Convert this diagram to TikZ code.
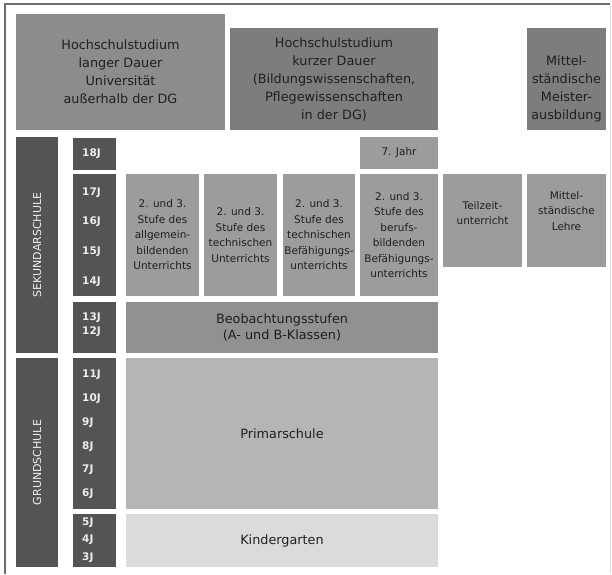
\documentclass[tikz,border=0pt]{standalone}
\usepackage{fontspec}
\setmainfont{DejaVu Sans}
\definecolor{dark}{gray}{0.33}
\definecolor{uni}{gray}{0.55}
\definecolor{hoch}{gray}{0.49}
\definecolor{stufe}{gray}{0.61}
\definecolor{beob}{gray}{0.57}
\definecolor{prim}{gray}{0.71}
\definecolor{kinder}{gray}{0.86}
\definecolor{ink}{gray}{0.12}
\definecolor{agetext}{gray}{0.93}
\begin{document}
\begin{tikzpicture}[x=1pt, y=-1pt,
  box/.style={rectangle, inner sep=0pt, align=center, text=ink},
  big/.style={box, font=\fontsize{12.8}{18}\selectfont},
  small/.style={box, font=\fontsize{10.5}{15.5}\selectfont},
  bar/.style={rectangle, inner sep=0pt, fill=dark, text=agetext, rotate=90,
    minimum height=42pt, font=\fontsize{11}{13}\selectfont},
  agebox/.style={rectangle, inner sep=0pt, fill=dark, minimum width=43pt},
  age/.style={anchor=west, inner sep=0pt, text=agetext, font=\bfseries\fontsize{10.5}{12}\selectfont}]
\useasboundingbox (0,0) rectangle (612,574);
\draw[gray!85!black, line width=1.2pt] (5,574) -- (5,4) -- (610,4);
\draw[gray!25, line width=1pt] (610,4) -- (610,574);

\node[big, fill=uni, minimum width=209pt, minimum height=116pt] (lang) at (120.5,72)
  {Hochschulstudium\\langer Dauer\\Universität\\außerhalb der DG};
\node[big, fill=hoch, minimum width=208pt, minimum height=102pt] (kurz) at (334,79)
  {Hochschulstudium\\kurzer Dauer\\(Bildungswissenschaften,\\Pflegewissenschaften\\in der DG)};
\node[big, fill=hoch, minimum width=79pt, minimum height=102pt] (meister) at (566.5,79) {};
\node[big] (meistertxt) at (566.5,88.5) {Mittel-\\ständische\\Meister-\\ausbildung};

\node[bar, minimum width=216pt] (sek) at (37,245) {SEKUNDARSCHULE};
\node[bar, minimum width=209pt] (grund) at (37,462.5) {GRUNDSCHULE};

\node[agebox, minimum height=32pt] (a18) at (94.5,154) {};
\node[agebox, minimum height=122pt] (asek) at (94.5,235) {};
\node[agebox, minimum height=51pt] (abeob) at (94.5,327.5) {};
\node[agebox, minimum height=151pt] (aprim) at (94.5,433.5) {};
\node[agebox, minimum height=53pt] (akg) at (94.5,540.5) {};
\foreach \a/\y in {18/154,17/193,16/222,15/252,14/282,13/318,12/332,11/375,10/399,9/423,8/447,7/470,6/494,5/523,4/540,3/558}
  \node[age] (j\a) at (82,\y) {\a J};

\node[small, fill=stufe, minimum width=78pt, minimum height=32pt] (jahr7) at (399,153) {7. Jahr};
\node[small, fill=stufe, minimum width=73pt, minimum height=122pt] (allg) at (162.5,235)
  {2. und 3.\\Stufe des\\allgemein-\\bildenden\\Unterrichts};
\node[small, fill=stufe, minimum width=73pt, minimum height=122pt] (tech) at (240.5,235)
  {2. und 3.\\Stufe des\\technischen\\Unterrichts};
\node[small, fill=stufe, minimum width=72pt, minimum height=122pt] (techbef) at (319,235)
  {2. und 3.\\Stufe des\\technischen\\Befähigungs-\\unterrichts};
\node[small, fill=stufe, minimum width=78pt, minimum height=122pt] (berbef) at (399,235)
  {2. und 3.\\Stufe des\\berufs-\\bildenden\\Befähigungs-\\unterrichts};
\node[small, fill=stufe, minimum width=79pt, minimum height=93pt] (teilzeit) at (482.5,220.5) {};
\node[small] (teilzeittxt) at (482.5,213) {Teilzeit-\\unterricht};
\node[small, fill=stufe, minimum width=79pt, minimum height=93pt] (lehre) at (566.5,220.5) {};
\node[small] (lehretxt) at (566.5,211) {Mittel-\\ständische\\Lehre};

\node[big, fill=beob, minimum width=312pt, minimum height=51pt, font=\fontsize{12.8}{16}\selectfont] (beob) at (282,327.5)
  {Beobachtungsstufen\\(A- und B-Klassen)};
\node[big, fill=prim, minimum width=312pt, minimum height=151pt] (prim) at (282,433.5) {Primarschule};
\node[big, fill=kinder, minimum width=312pt, minimum height=53pt] (kg) at (282,540.5) {Kindergarten};
\end{tikzpicture}
\end{document}
